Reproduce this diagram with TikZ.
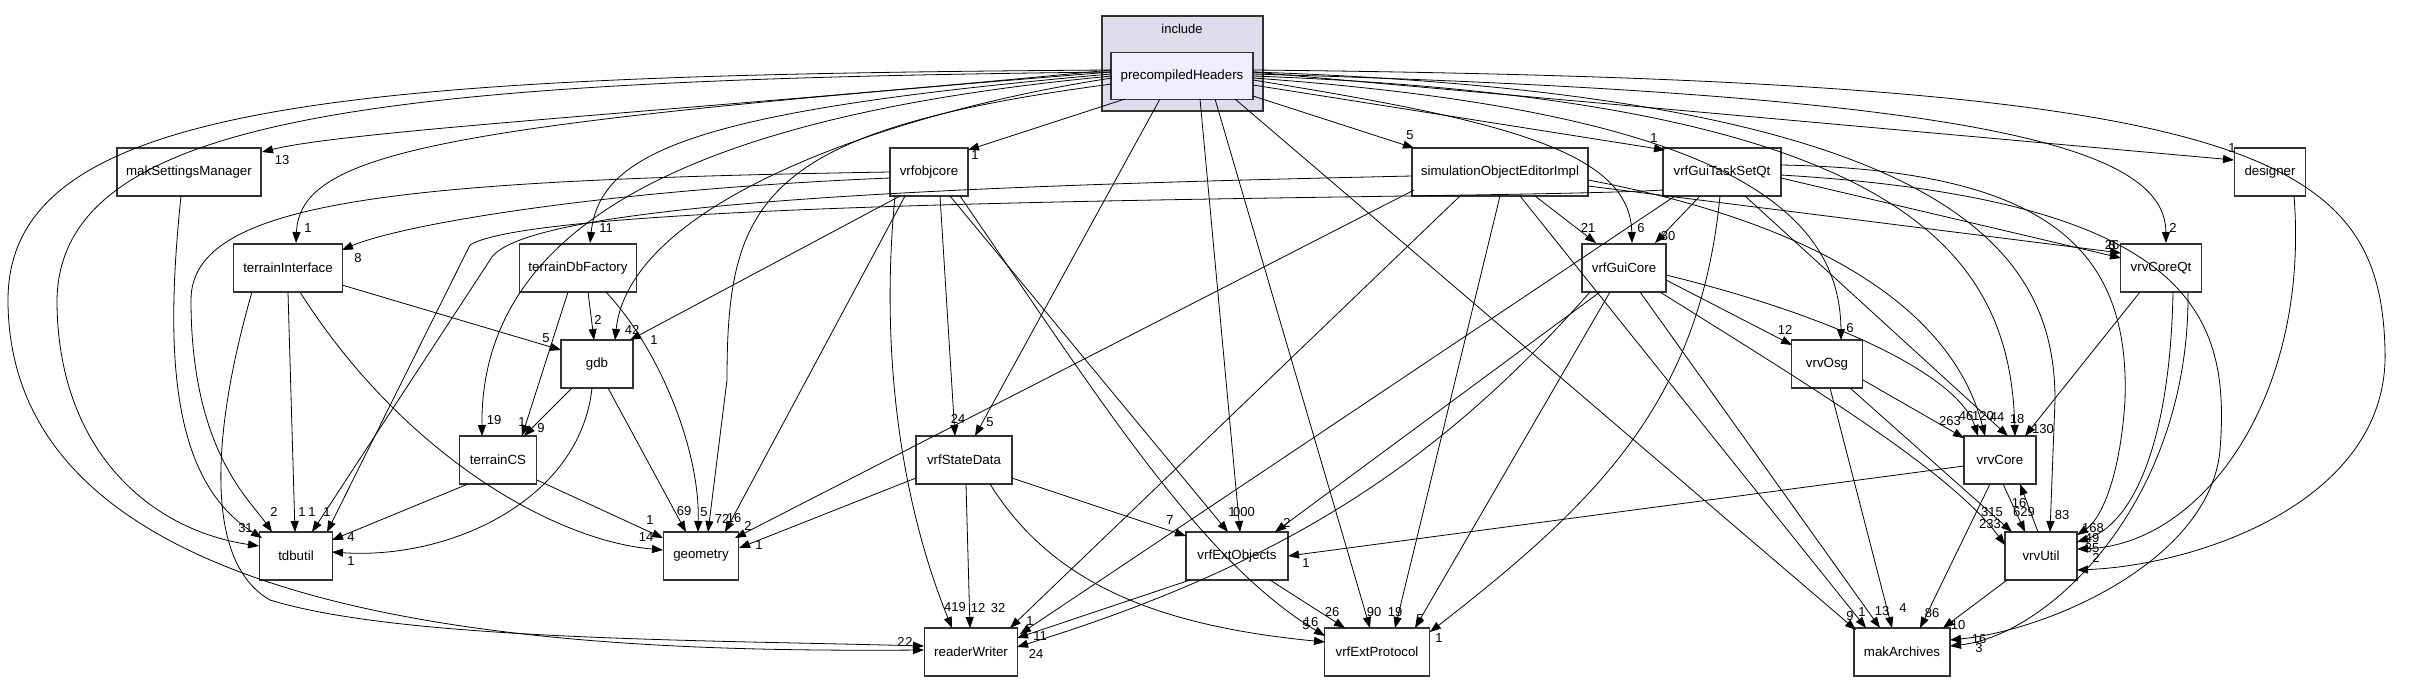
\documentclass[tikz,border=0pt]{standalone}
\usepackage{fontspec}
\setmainfont{Liberation Sans}
\usetikzlibrary{arrows.meta}
\begin{document}
\begin{tikzpicture}[x=1pt,y=-1pt,
  box/.style={draw=black!80,line width=1.3pt,fill=white,inner sep=0pt,minimum height=48pt,font=\fontsize{13.3}{15}\selectfont},
  e/.style={line width=0.8pt,-{Triangle[length=11pt,width=8pt]}},
  l/.style={inner sep=0pt,font=\fontsize{13}{14}\selectfont}]
\useasboundingbox (0,0) rectangle (2410,681);
\fill[white] (0,0) rectangle (2410,681);
% cluster
\node[draw=black!80,line width=1.2pt,fill={rgb,255:red,221;green,221;blue,238},minimum width=161pt,minimum height=95pt,inner sep=0pt] (inc) at (1182.5,63.5) {};
\node[l] (inclbl) at (1182,29) {include};
\node[box,fill={rgb,255:red,238;green,238;blue,255},minimum width=142pt,minimum height=47pt] (P) at (1182,76) {precompiledHeaders};
% nodes
\node[box,minimum width=144pt] (ms) at (189,172) {makSettingsManager};
\node[box,minimum width=78pt] (vo) at (929,172) {vrfobjcore};
\node[box,minimum width=176pt] (so) at (1500,172) {simulationObjectEditorImpl};
\node[box,minimum width=118pt] (gt) at (1722,172) {vrfGuiTaskSetQt};
\node[box,minimum width=71pt] (de) at (2270,172) {designer};
\node[box,minimum width=109pt] (ti) at (288,268) {terrainInterface};
\node[box,minimum width=117pt] (tf) at (578,268) {terrainDbFactory};
\node[box,minimum width=84pt] (gc) at (1624,268) {vrfGuiCore};
\node[box,minimum width=81pt] (cq) at (2161,268) {vrvCoreQt};
\node[box,minimum width=72pt] (gdb) at (597,364) {gdb};
\node[box,minimum width=71pt] (os) at (1827,364) {vrvOsg};
\node[box,minimum width=77pt] (cs) at (498,460) {terrainCS};
\node[box,minimum width=96pt] (sd) at (964,460) {vrfStateData};
\node[box,minimum width=72pt] (vc) at (2000,460) {vrvCore};
\node[box,minimum width=73pt] (tu) at (296,556) {tdbutil};
\node[box,minimum width=75pt] (ge) at (701,556) {geometry};
\node[box,minimum width=102pt] (eo) at (1237,556) {vrfExtObjects};
\node[box,minimum width=72pt] (vu) at (2041,556) {vrvUtil};
\node[box,minimum width=93pt] (rw) at (971,652) {readerWriter};
\node[box,minimum width=105pt] (ep) at (1377,652) {vrfExtProtocol};
\node[box,minimum width=96pt] (ma) at (1902,652) {makArchives};
% coordinates
\foreach \n/\x/\y in {
 pms/1111/70, pti/1111/72, ptf/1111/74, pgdb/1112/78, pcs/1112/76, ptu/1111/72, prw/1111/70, pge/1112/84,
 pvo/1125/99, psd/1160/99, peo/1200/99, pep/1215/99, pma/1235/99, pso/1253/96, pgt/1253/85, pgc/1253/80,
 pos/1253/78, pvc/1253/76, pcq/1253/74, pde/1253/72, pvu/1253/70, pvu2/1253/72,
 ams/262/152, ati/296/243, atf/590/243, agdb/615/340, acs/482/436, atu3/259/546, arw/924/650, age72/708/532,
 avo/968/150, asd/975/436, aeo0/1240/532, aep90/1370/628, ama9/1856/630, aso/1414/148, agt/1665/150, agc6/1632/243,
 aos6/1841/340, avc18/2015/436, acq2/2166/243, ade/2234/160, avu2/2077/570, avu83/2050/532,
 vti/890/178, vtu/890/172, vgdb/900/196, vge/905/196, vsd/940/196, vrw/895/196, veo/950/196, vep/960/196,
 ati8/342/250, atu2/272/532, agdb1/630/340, age16/725/532, asd24/955/436, arw419/952/628, aeo1/1228/532, aep16/1325/636,
 mtu/181/196, atu1a/262/538,
 tgdb/342/285, ttu/288/292, tge/300/292, trw/252/292, agdb5/561/350, atu1b/295/532, age14/663/550, arw2/924/646,
 fgdb/588/292, fcs/568/292, fge/606/292, agdb2/594/340, acs1/522/436, age5/698/532,
 gcs/572/388, gge/608/388, gtu/592/388, acs9/524/436, age69/686/532, atue/332/552,
 ctu/468/484, cge/537/480, atu4/332/540, age1/663/538,
 sge/916/478, srw/966/484, seo/1012/478, sep/990/484, age1b/739/548, arw12/970/628, aeo7/1186/536, aep5/1325/642,
 erw/1190/580, eep/1270/580, arw11/1017/638, aep26/1345/628,
 stu/1412/176, sge2/1414/190, srw2/1460/196, sgc/1535/196, sep2/1500/196, sma/1520/196, svc/1588/180, scq/1588/186,
 atu1c/312/532, age2/735/538, arw32/1010/628, agc21/1596/243, aep19/1395/628, ama1/1866/628, avc120/1985/436, acq26/2121/253,
 gtu2/1663/190, ggc/1700/196, grw/1675/196, gep/1720/196, gvc/1745/196, gcq/1781/178, gvu/1781/165, gma/1781/175,
 atu1d/327/532, agc30/1655/243, arw1/1020/634, aep1/1430/632, avc44/2008/436, acq8/2121/258, avu168/2077/535, ama16/1950/640,
 cos/1666/280, cvc/1666/275, cvu/1660/292, cma/1640/292, cep/1610/292, ceo/1600/292, crw/1590/292,
 aos12/1792/345, avc46/1978/436, avu233/2005/545, ama13/1880/628, aep5b/1415/628, aeo2/1275/532, arw24/1017/647,
 ovc/1863/380, ovu/1850/388, oma/1830/388, avc263/1964/438, avu315/2012/532, ama4/1892/628,
 veo2/1964/466, vma/1990/484, vvu/2003/484, uvc/2038/532, uma/2007/580,
 aeo1b/1288/556, ama86/1920/628, avu629/2025/532, avc16/2020/484, ama10/1943/628,
 qvc/2140/292, qvu/2173/292, qma/2188/292, avc130/2025/436, avu49/2077/542, ama3/1950/646,
 dvu/2294/196, avu85/2077/549}
 {\coordinate (\n) at (\x,\y);}
% edges from P
\draw[e] (pms) .. controls (700,110) and (350,130) .. (ams);
\draw[e] (pti) .. controls (450,125) and (300,150) .. (ati);
\draw[e] (ptf) .. controls (700,110) and (600,150) .. (atf);
\draw[e] (pgdb) .. controls (900,110) and (630,200) .. (agdb);
\draw[e] (pcs) .. controls (750,110) and (480,200) .. (acs);
\draw[e] (ptu) .. controls (400,80) and (60,110) .. (57,300) .. controls (57,450) and (150,530) .. (atu3);
\draw[e] (prw) .. controls (350,75) and (8,100) .. (8,300) .. controls (8,640) and (600,652) .. (arw);
\draw[e] (pge) .. controls (760,130) and (727,200) .. (727,380) -- (age72);
\draw[e] (pvo) -- (avo);
\draw[e] (psd) -- (asd);
\draw[e] (peo) -- (aeo0);
\draw[e] (pep) -- (aep90);
\draw[e] (pma) -- (ama9);
\draw[e] (pso) -- (aso);
\draw[e] (pgt) -- (agt);
\draw[e] (pgc) .. controls (1500,120) and (1630,150) .. (agc6);
\draw[e] (pos) .. controls (1700,110) and (1840,200) .. (aos6);
\draw[e] (pvc) .. controls (1900,100) and (2010,250) .. (avc18);
\draw[e] (pcq) .. controls (2000,95) and (2165,150) .. (acq2);
\draw[e] (pde) -- (ade);
\draw[e] (pvu) .. controls (2250,80) and (2380,150) .. (2385,350) .. controls (2390,500) and (2200,565) .. (avu2);
\draw[e] (pvu2) .. controls (1950,95) and (2055,250) .. (2055,400) -- (avu83);
% vrfobjcore
\draw[e] (vti) .. controls (600,190) and (400,225) .. (ati8);
\draw[e] (vtu) .. controls (400,180) and (191,200) .. (191,300) .. controls (191,450) and (250,500) .. (atu2);
\draw[e] (vgdb) -- (agdb1);
\draw[e] (vge) -- (age16);
\draw[e] (vsd) -- (asd24);
\draw[e] (vrw) .. controls (880,350) and (900,500) .. (arw419);
\draw[e] (veo) -- (aeo1);
\draw[e] (vep) .. controls (1100,400) and (1200,560) .. (aep16);
% makSettingsManager
\draw[e] (mtu) .. controls (165,350) and (170,480) .. (atu1a);
% terrainInterface
\draw[e] (tgdb) -- (agdb5);
\draw[e] (ttu) -- (atu1b);
\draw[e] (tge) .. controls (400,450) and (550,540) .. (age14);
\draw[e] (trw) .. controls (215,420) and (200,560) .. (270,600) .. controls (400,640) and (700,640) .. (arw2);
% terrainDbFactory
\draw[e] (fgdb) -- (agdb2);
\draw[e] (fcs) -- (acs1);
\draw[e] (fge) .. controls (660,350) and (700,450) .. (age5);
% gdb
\draw[e] (gcs) -- (acs9);
\draw[e] (gge) -- (age69);
\draw[e] (gtu) .. controls (580,500) and (450,560) .. (atue);
% terrainCS
\draw[e] (ctu) -- (atu4);
\draw[e] (cge) -- (age1);
% vrfStateData
\draw[e] (sge) -- (age1b);
\draw[e] (srw) -- (arw12);
\draw[e] (seo) -- (aeo7);
\draw[e] (sep) .. controls (1050,580) and (1150,625) .. (aep5);
% vrfExtObjects
\draw[e] (erw) -- (arw11);
\draw[e] (eep) -- (aep26);
% simulationObjectEditorImpl
\draw[e] (stu) .. controls (1000,185) and (520,200) .. (490,260) -- (atu1c);
\draw[e] (sge2) -- (age2);
\draw[e] (srw2) -- (arw32);
\draw[e] (sgc) -- (agc21);
\draw[e] (sep2) -- (aep19);
\draw[e] (sma) -- (ama1);
\draw[e] (svc) .. controls (1800,220) and (1950,300) .. (avc120);
\draw[e] (scq) -- (acq26);
% vrfGuiTaskSetQt
\draw[e] (gtu2) .. controls (1500,200) and (550,195) .. (470,245) -- (atu1d);
\draw[e] (ggc) -- (agc30);
\draw[e] (grw) -- (arw1);
\draw[e] (gep) .. controls (1700,400) and (1600,500) .. (aep1);
\draw[e] (gvc) -- (avc44);
\draw[e] (gcq) -- (acq8);
\draw[e] (gvu) .. controls (2050,170) and (2130,250) .. (2125,400) .. controls (2120,480) and (2100,520) .. (avu168);
\draw[e] (gma) .. controls (2200,200) and (2230,320) .. (2220,450) .. controls (2210,560) and (2050,630) .. (ama16);
% vrfGuiCore
\draw[e] (cos) -- (aos12);
\draw[e] (cvc) .. controls (1850,320) and (1960,380) .. (avc46);
\draw[e] (cvu) .. controls (1800,380) and (1950,470) .. (avu233);
\draw[e] (cma) -- (ama13);
\draw[e] (cep) -- (aep5b);
\draw[e] (ceo) -- (aeo2);
\draw[e] (crw) .. controls (1450,450) and (1300,560) .. (arw24);
% vrvOsg
\draw[e] (ovc) -- (avc263);
\draw[e] (ovu) -- (avu315);
\draw[e] (oma) -- (ama4);
% vrvCore / vrvUtil
\draw[e] (veo2) -- (aeo1b);
\draw[e] (vma) -- (ama86);
\draw[e] (vvu) -- (avu629);
\draw[e] (uvc) -- (avc16);
\draw[e] (uma) -- (ama10);
% vrvCoreQt
\draw[e] (qvc) -- (avc130);
\draw[e] (qvu) .. controls (2170,450) and (2130,525) .. (avu49);
\draw[e] (qma) .. controls (2190,500) and (2050,635) .. (ama3);
% designer
\draw[e] (dvu) .. controls (2310,400) and (2200,545) .. (avu85);
% labels
\foreach \t/\x/\y in {13/282/160, 1/308/228, 11/606/228, 42/632/330, 19/494/420, 3/242/528, 2/901/642, 72/722/519,
 1/975/155, 5/990/422, 000/1244/512, 90/1374/612, 9/1850/616, 5/1410/135, 1/1654/138, 6/1641/228, 6/1850/328,
 18/2017/419, 2/2173/228, 1/2232/148, 2/2096/558, 83/2062/515,
 8/358/258, 2/274/512, 1/654/340, 16/734/518, 24/958/419, 419/955/607, 1/1232/512, 16/1311/622,
 1/249/528, 5/546/338, 1/302/512, 14/646/537, 2/909/642, 2/598/320, 1/522/422, 5/704/512,
 9/541/428, 69/684/511, 1/351/561, 4/351/537, 1/650/520, 1/759/545, 12/978/608, 7/1170/520, 5/1306/625,
 11/1040/636, 26/1332/612, 1/312/512, 2/748/526, 32/998/608, 21/1588/228, 19/1395/612, 1/1862/612, 120/1983/416,
 26/2112/245, 1/327/512, 30/1668/236, 1/1030/621, 1/1439/638, 44/1997/417, 8/2112/245, 168/2093/528, 16/1979/639,
 12/1785/330, 46/1966/416, 233/1990/524, 13/1882/611, 5/1420/619, 2/1287/523, 24/1036/654,
 263/1950/421, 315/1992/512, 4/1903/608, 1/1306/563, 86/1932/613, 629/2024/512, 16/2019/503, 10/1958/625,
 130/2043/429, 49/2092/538, 3/1979/648, 85/2092/548}
 {\node[l] at (\x,\y) {\t};}
\end{tikzpicture}
\end{document}
